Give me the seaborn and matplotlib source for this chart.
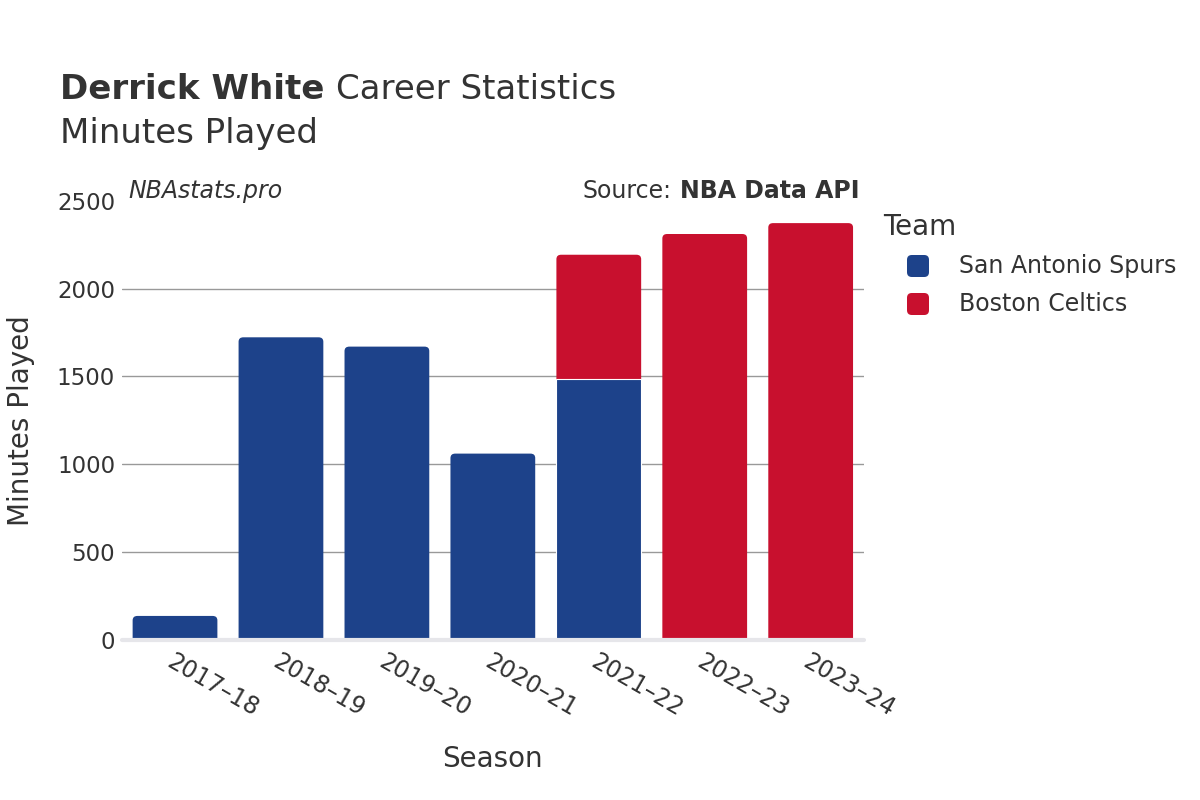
import pandas as pd
import matplotlib
matplotlib.use("Agg")
import matplotlib.pyplot as plt
import seaborn as sns
from matplotlib.patches import FancyBboxPatch

# ---------------- dados ----------------
seasons = ["2017–18", "2018–19", "2019–20", "2020–21", "2021–22", "2022–23", "2023–24"]
spurs_min = [137, 1723, 1670, 1061, 1483, 0, 0]
celtics_min = [0, 0, 0, 0, 710, 2311, 2373]
teams = ["San Antonio Spurs", "Boston Celtics"]
team_colors = {"San Antonio Spurs": "#1D428A", "Boston Celtics": "#C8102E"}

# tabela longa, empilhada (Spurs embaixo)
rows = []
for s, sp, ce in zip(seasons, spurs_min, celtics_min):
    if sp > 0:
        rows.append({"Season": s, "Team": teams[0], "Minutes": sp, "Top": sp})
    if ce > 0:
        rows.append({"Season": s, "Team": teams[1], "Minutes": ce, "Top": sp + ce})
df = pd.DataFrame(rows)
totals = {s: sp + ce for s, sp, ce in zip(seasons, spurs_min, celtics_min)}

TXT = "#333333"
sns.set_style("white")
plt.rcParams["font.family"] = ["DejaVu Sans"]

W, H = 1200, 800
fig = plt.figure(figsize=(12, 8), dpi=100)
ax = fig.add_axes([0.1017, 0.2, 0.618, 0.549])

# camada de cima primeiro (Celtics = total), depois Spurs por cima
sns.barplot(data=df, x="Season", y="Top", hue="Team", order=seasons,
            hue_order=[teams[1], teams[0]], palette=team_colors, dodge=False,
            width=0.8, edgecolor="white", linewidth=0.8, saturation=1,
            legend=False, ax=ax)

# cantos arredondados no topo de cada coluna
for p in list(ax.patches):
    h = p.get_height()
    if h <= 0:
        continue
    xc = p.get_x() + p.get_width() / 2
    s = seasons[int(round(xc))]
    if abs(h - totals[s]) < 0.5:
        rb = FancyBboxPatch((p.get_x(), -60), p.get_width(), h + 60,
                            boxstyle="round,pad=0,rounding_size=0.045",
                            mutation_aspect=560, facecolor=p.get_facecolor(),
                            edgecolor="none", zorder=2)
        ax.add_patch(rb)
        p.set_visible(False)
    else:
        p.set_zorder(3)

ax.set_xlim(-0.5, 6.5)
ax.set_ylim(0, 2500)
ax.set_yticks([0, 500, 1000, 1500, 2000, 2500])
for yv in [500, 1000, 1500, 2000]:
    ax.axhline(yv, color="#999999", lw=1, zorder=0)
ax.axhline(0, color="#e6e6ea", lw=3, zorder=5, clip_on=False)
for sp in ax.spines.values():
    sp.set_visible(False)

ax.tick_params(axis="y", labelsize=16.5, labelcolor=TXT, length=0, pad=5)
ax.tick_params(axis="x", length=0, pad=7)
ax.set_xticks(range(len(seasons)))
ax.set_xticklabels(seasons, rotation=-30, ha="left", va="top",
                   rotation_mode="anchor", fontsize=17, color=TXT)
ax.set_xlabel("Season", fontsize=20, color=TXT, labelpad=17)
ax.set_ylabel("Minutes Played", fontsize=20, color=TXT, labelpad=16)

# titulos
r = fig.canvas.get_renderer()
t1 = fig.text(60 / W, 0.876, "Derrick White", fontsize=24.5, fontweight="bold",
              color=TXT, va="baseline")
x1 = t1.get_window_extent(r).x1
fig.text((x1 + 12) / W, 0.876, "Career Statistics", fontsize=24.5,
         color=TXT, va="baseline")
fig.text(60 / W, 0.821, "Minutes Played", fontsize=24.5, color=TXT, va="baseline")
fig.text(128 / W, 0.752, "NBAstats.pro", fontsize=17, style="italic",
         color=TXT, va="baseline")
t2 = fig.text(860 / W, 0.752, "NBA Data API", fontsize=17, fontweight="bold",
              color=TXT, va="baseline", ha="right")
x0 = t2.get_window_extent(r).x0
fig.text((x0 - 9) / W, 0.752, "Source:", fontsize=17,
         color=TXT, va="baseline", ha="right")

# legenda (montada a mao)
fig.text(883 / W, 1 - 227 / H, "Team", fontsize=20, color=TXT, va="center")
for i, t in enumerate(teams):
    yc = 266 + 38 * i
    fig.patches.append(FancyBboxPatch(((918 - 11) / W, 1 - (yc + 11) / H), 22 / W, 22 / H,
                                      boxstyle="round,pad=0,rounding_size=0.004",
                                      transform=fig.transFigure, figure=fig,
                                      facecolor=team_colors[t], edgecolor="none",
                                      mutation_aspect=1.5))
    fig.text(959 / W, 1 - yc / H, t, fontsize=17, color=TXT, va="center")

fig.savefig("out.png", dpi=100, facecolor="white")
